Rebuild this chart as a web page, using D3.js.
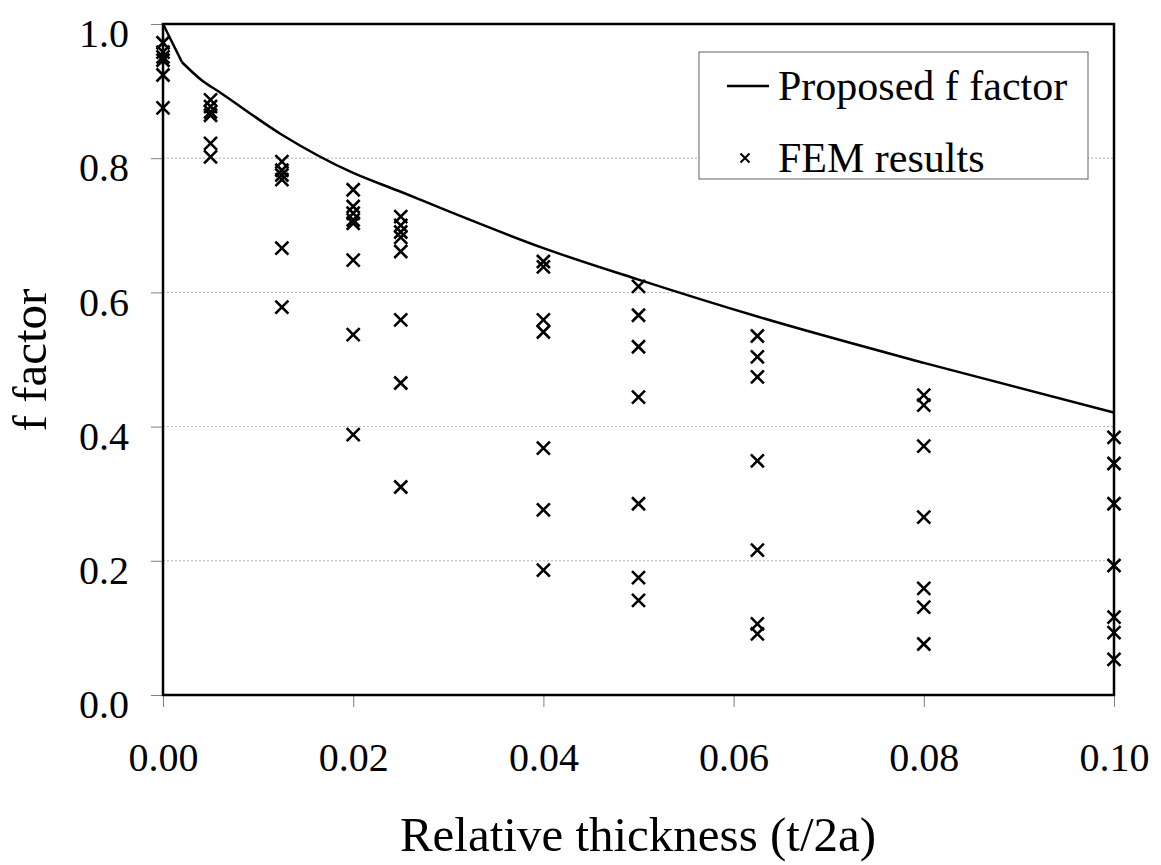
<!DOCTYPE html>
<html>
<head>
<meta charset="utf-8">
<script src="https://cdn.jsdelivr.net/npm/d3@7"></script>
<style>
  html, body { margin: 0; padding: 0; background: #fff; }
  svg { display: block; }
  svg text { font-family: "Liberation Serif", "Times New Roman", Tinos, "Nimbus Roman", "DejaVu Serif", serif; }
</style>
</head>
<body>
<svg id="chart" width="1161" height="865"></svg>
<script>
// ---- data ----
const xTicks = [0, 0.02, 0.04, 0.06, 0.08, 0.10];
const yTicks = [0, 0.2, 0.4, 0.6, 0.8, 1.0];
const xLabelTitle = "Relative thickness (t/2a)";
const yLabelTitle = "f factor";
const legendLabels = ["Proposed f factor", "FEM results"];

// Proposed f factor curve (t/2a, f)
const curveX = [0, 0.002, 0.004, 0.006, 0.0125, 0.02, 0.025, 0.03, 0.04, 0.05, 0.0625, 0.08, 0.1];
const curveY = [1.0, 0.943, 0.917, 0.898, 0.835, 0.778, 0.750, 0.721, 0.666, 0.619, 0.564, 0.495, 0.421];

// FEM results grouped by relative thickness
const femX = [0, 0.005, 0.0125, 0.02, 0.025, 0.04, 0.05, 0.0625, 0.08, 0.1];
const femValues = [
  [0.972, 0.958, 0.951, 0.946, 0.924, 0.875],
  [0.887, 0.877, 0.869, 0.864, 0.822, 0.802],
  [0.795, 0.782, 0.775, 0.768, 0.666, 0.578],
  [0.753, 0.728, 0.718, 0.708, 0.703, 0.648, 0.537, 0.388],
  [0.713, 0.700, 0.690, 0.682, 0.661, 0.559, 0.465, 0.310],
  [0.646, 0.638, 0.559, 0.541, 0.368, 0.276, 0.186],
  [0.609, 0.566, 0.519, 0.444, 0.285, 0.175, 0.141],
  [0.535, 0.504, 0.474, 0.349, 0.216, 0.106, 0.091],
  [0.447, 0.432, 0.371, 0.265, 0.159, 0.131, 0.076],
  [0.384, 0.345, 0.285, 0.193, 0.116, 0.093, 0.053]
];

(function () {
const FONT = '"Liberation Serif", "Times New Roman", Tinos, "Nimbus Roman", "DejaVu Serif", serif';
const svg = d3.select("#chart");
const pL = 163, pT = 24, pR = 1114, pB = 695;

const x = d3.scaleLinear().domain([0, 0.1]).range([pL, pR]);
const y = d3.scaleLinear().domain([0, 1]).range([pB, pT]);

// gridlines
svg.append("g")
  .selectAll("line")
  .data(yTicks.filter(d => d > 0 && d < 1))
  .join("line")
  .attr("x1", pL).attr("x2", pR)
  .attr("y1", d => y(d)).attr("y2", d => y(d))
  .attr("stroke", "#b0b0b0")
  .attr("stroke-width", 1)
  .attr("stroke-dasharray", "2,2");

// y axis
const yAxis = svg.append("g")
  .attr("transform", `translate(${pL},0)`)
  .call(d3.axisLeft(y).tickValues(yTicks).tickFormat(d3.format(".1f")).tickSize(12).tickPadding(22));
yAxis.attr("font-family", null).attr("font-size", null);
yAxis.select(".domain").remove();
yAxis.selectAll(".tick line").attr("stroke", "#808080");
yAxis.selectAll(".tick text")
  .style("font-family", FONT).style("font-size", "40px").attr("fill", "#000")
  .attr("dy", "0.565em");

// x axis
const xAxis = svg.append("g")
  .attr("transform", `translate(0,${pB})`)
  .call(d3.axisBottom(x).tickValues(xTicks).tickFormat(d3.format(".2f")).tickSize(12).tickPadding(36));
xAxis.attr("font-family", null).attr("font-size", null);
xAxis.select(".domain").remove();
xAxis.selectAll(".tick line").attr("stroke", "#808080");
xAxis.selectAll(".tick text")
  .style("font-family", FONT).style("font-size", "40px").attr("fill", "#000")
  .attr("dy", "0.71em");

// frame
svg.append("rect")
  .attr("x", pL).attr("y", pT)
  .attr("width", pR - pL).attr("height", pB - pT)
  .attr("fill", "none").attr("stroke", "#000").attr("stroke-width", 2.5);

// curve: straight first segment, smooth after
const curvePts = curveX.map((d, i) => [d, curveY[i]]);
const lineLin = d3.line().x(d => x(d[0])).y(d => y(d[1]));
const lineSmooth = d3.line().x(d => x(d[0])).y(d => y(d[1])).curve(d3.curveMonotoneX);
svg.append("path")
  .datum(curvePts.slice(0, 2))
  .attr("d", lineLin)
  .attr("fill", "none").attr("stroke", "#000").attr("stroke-width", 2.5);
svg.append("path")
  .datum(curvePts.slice(1))
  .attr("d", lineSmooth)
  .attr("fill", "none").attr("stroke", "#000").attr("stroke-width", 2.5);

// FEM markers
const femPts = [];
femX.forEach((t, i) => femValues[i].forEach(v => femPts.push([t, v])));
const s = 6.5;
svg.append("g").selectAll("path")
  .data(femPts)
  .join("path")
  .attr("d", d => {
    const cx = x(d[0]), cy = y(d[1]);
    return `M${cx - s},${cy - s}L${cx + s},${cy + s}M${cx - s},${cy + s}L${cx + s},${cy - s}`;
  })
  .attr("stroke", "#000")
  .attr("stroke-width", 2.6)
  .attr("fill", "none");

// axis titles
svg.append("text")
  .attr("x", 638).attr("y", 851)
  .attr("text-anchor", "middle")
  .style("font-family", FONT).style("font-size", "49px")
  .text(xLabelTitle);

svg.append("text")
  .attr("transform", `translate(46,360) rotate(-90)`)
  .attr("text-anchor", "middle")
  .style("font-family", FONT).style("font-size", "49px")
  .text(yLabelTitle);

// legend
const lg = svg.append("g");
lg.append("rect")
  .attr("x", 699).attr("y", 52).attr("width", 389).attr("height", 127)
  .attr("fill", "#fff").attr("stroke", "#606060").attr("stroke-width", 1);
lg.append("line")
  .attr("x1", 727).attr("x2", 769).attr("y1", 86).attr("y2", 86)
  .attr("stroke", "#000").attr("stroke-width", 2.5);
const ls = 4.5, lx = 745, ly = 158;
lg.append("path")
  .attr("d", `M${lx - ls},${ly - ls}L${lx + ls},${ly + ls}M${lx - ls},${ly + ls}L${lx + ls},${ly - ls}`)
  .attr("stroke", "#000").attr("stroke-width", 2);
lg.append("text").attr("x", 778).attr("y", 100)
  .style("font-family", FONT).style("font-size", "42px").text(legendLabels[0]);
lg.append("text").attr("x", 778).attr("y", 172)
  .style("font-family", FONT).style("font-size", "42px").text(legendLabels[1]);
})();
</script>
</body>
</html>
